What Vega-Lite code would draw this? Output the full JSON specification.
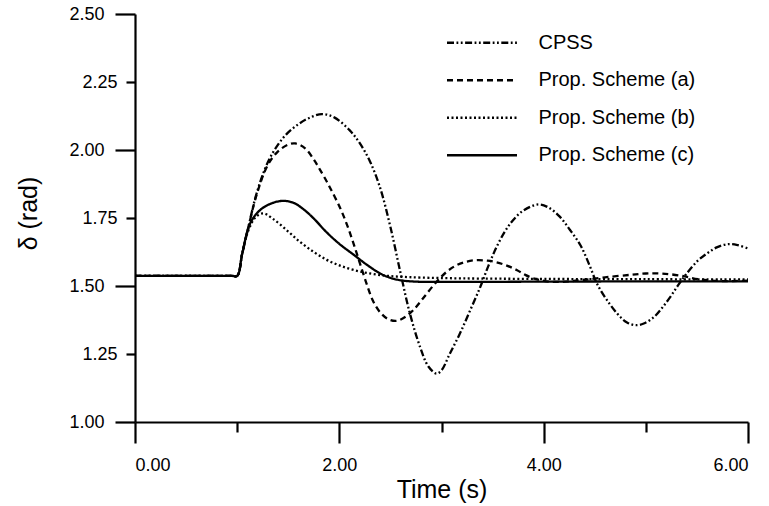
{
  "$schema": "https://vega.github.io/schema/vega-lite/v6.json",
  "width": 613,
  "height": 408,
  "autosize": "none",
  "padding": {"left": 135, "top": 14, "right": 21, "bottom": 84},
  "background": "white",
  "config": {
    "view": {"stroke": null},
    "font": "Liberation Sans",
    "axis": {"grid": false, "domainColor": "black", "tickColor": "black", "labelColor": "black", "titleColor": "black", "domainWidth": 2.2, "tickWidth": 2.2, "labelFont": "Liberation Sans", "titleFont": "Liberation Sans", "titleFontWeight": "normal", "labelFontSize": 18, "titleFontSize": 25}
  },
  "data": {
    "values": [
      {"t": 0, "v": 1.537, "s": "CPSS"},
      {"t": 0.95, "v": 1.537, "s": "CPSS"},
      {"t": 1.0, "v": 1.537, "s": "CPSS"},
      {"t": 1.05, "v": 1.62, "s": "CPSS"},
      {"t": 1.1, "v": 1.70, "s": "CPSS"},
      {"t": 1.19, "v": 1.84, "s": "CPSS"},
      {"t": 1.3, "v": 1.955, "s": "CPSS"},
      {"t": 1.4, "v": 2.02, "s": "CPSS"},
      {"t": 1.49, "v": 2.061, "s": "CPSS"},
      {"t": 1.6, "v": 2.095, "s": "CPSS"},
      {"t": 1.7, "v": 2.117, "s": "CPSS"},
      {"t": 1.83, "v": 2.132, "s": "CPSS"},
      {"t": 1.95, "v": 2.12, "s": "CPSS"},
      {"t": 2.1, "v": 2.073, "s": "CPSS"},
      {"t": 2.2, "v": 2.025, "s": "CPSS"},
      {"t": 2.3, "v": 1.958, "s": "CPSS"},
      {"t": 2.4, "v": 1.86, "s": "CPSS"},
      {"t": 2.5, "v": 1.717, "s": "CPSS"},
      {"t": 2.6, "v": 1.546, "s": "CPSS"},
      {"t": 2.69, "v": 1.40, "s": "CPSS"},
      {"t": 2.79, "v": 1.276, "s": "CPSS"},
      {"t": 2.87, "v": 1.205, "s": "CPSS"},
      {"t": 2.95, "v": 1.178, "s": "CPSS"},
      {"t": 3.0, "v": 1.19, "s": "CPSS"},
      {"t": 3.08, "v": 1.25, "s": "CPSS"},
      {"t": 3.18, "v": 1.325, "s": "CPSS"},
      {"t": 3.28, "v": 1.41, "s": "CPSS"},
      {"t": 3.38, "v": 1.497, "s": "CPSS"},
      {"t": 3.46, "v": 1.575, "s": "CPSS"},
      {"t": 3.54, "v": 1.644, "s": "CPSS"},
      {"t": 3.62, "v": 1.70, "s": "CPSS"},
      {"t": 3.70, "v": 1.742, "s": "CPSS"},
      {"t": 3.8, "v": 1.777, "s": "CPSS"},
      {"t": 3.95, "v": 1.80, "s": "CPSS"},
      {"t": 4.05, "v": 1.788, "s": "CPSS"},
      {"t": 4.16, "v": 1.754, "s": "CPSS"},
      {"t": 4.26, "v": 1.705, "s": "CPSS"},
      {"t": 4.36, "v": 1.65, "s": "CPSS"},
      {"t": 4.45, "v": 1.575, "s": "CPSS"},
      {"t": 4.52, "v": 1.51, "s": "CPSS"},
      {"t": 4.62, "v": 1.448, "s": "CPSS"},
      {"t": 4.75, "v": 1.386, "s": "CPSS"},
      {"t": 4.82, "v": 1.365, "s": "CPSS"},
      {"t": 4.9, "v": 1.356, "s": "CPSS"},
      {"t": 4.98, "v": 1.362, "s": "CPSS"},
      {"t": 5.08, "v": 1.386, "s": "CPSS"},
      {"t": 5.16, "v": 1.42, "s": "CPSS"},
      {"t": 5.24, "v": 1.46, "s": "CPSS"},
      {"t": 5.32, "v": 1.505, "s": "CPSS"},
      {"t": 5.40, "v": 1.546, "s": "CPSS"},
      {"t": 5.5, "v": 1.59, "s": "CPSS"},
      {"t": 5.6, "v": 1.62, "s": "CPSS"},
      {"t": 5.7, "v": 1.643, "s": "CPSS"},
      {"t": 5.81, "v": 1.654, "s": "CPSS"},
      {"t": 5.9, "v": 1.65, "s": "CPSS"},
      {"t": 6.0, "v": 1.638, "s": "CPSS"},

      {"t": 0, "v": 1.537, "s": "Prop. Scheme (a)"},
      {"t": 0.95, "v": 1.537, "s": "Prop. Scheme (a)"},
      {"t": 1.0, "v": 1.537, "s": "Prop. Scheme (a)"},
      {"t": 1.05, "v": 1.62, "s": "Prop. Scheme (a)"},
      {"t": 1.1, "v": 1.70, "s": "Prop. Scheme (a)"},
      {"t": 1.19, "v": 1.835, "s": "Prop. Scheme (a)"},
      {"t": 1.3, "v": 1.945, "s": "Prop. Scheme (a)"},
      {"t": 1.4, "v": 1.995, "s": "Prop. Scheme (a)"},
      {"t": 1.5, "v": 2.02, "s": "Prop. Scheme (a)"},
      {"t": 1.57, "v": 2.024, "s": "Prop. Scheme (a)"},
      {"t": 1.665, "v": 2.006, "s": "Prop. Scheme (a)"},
      {"t": 1.75, "v": 1.965, "s": "Prop. Scheme (a)"},
      {"t": 1.81, "v": 1.928, "s": "Prop. Scheme (a)"},
      {"t": 1.9, "v": 1.868, "s": "Prop. Scheme (a)"},
      {"t": 2.01, "v": 1.785, "s": "Prop. Scheme (a)"},
      {"t": 2.08, "v": 1.72, "s": "Prop. Scheme (a)"},
      {"t": 2.14, "v": 1.655, "s": "Prop. Scheme (a)"},
      {"t": 2.2, "v": 1.585, "s": "Prop. Scheme (a)"},
      {"t": 2.27, "v": 1.505, "s": "Prop. Scheme (a)"},
      {"t": 2.33, "v": 1.445, "s": "Prop. Scheme (a)"},
      {"t": 2.40, "v": 1.403, "s": "Prop. Scheme (a)"},
      {"t": 2.48, "v": 1.378, "s": "Prop. Scheme (a)"},
      {"t": 2.56, "v": 1.372, "s": "Prop. Scheme (a)"},
      {"t": 2.64, "v": 1.385, "s": "Prop. Scheme (a)"},
      {"t": 2.72, "v": 1.41, "s": "Prop. Scheme (a)"},
      {"t": 2.82, "v": 1.455, "s": "Prop. Scheme (a)"},
      {"t": 2.95, "v": 1.515, "s": "Prop. Scheme (a)"},
      {"t": 3.05, "v": 1.552, "s": "Prop. Scheme (a)"},
      {"t": 3.15, "v": 1.577, "s": "Prop. Scheme (a)"},
      {"t": 3.25, "v": 1.59, "s": "Prop. Scheme (a)"},
      {"t": 3.345, "v": 1.595, "s": "Prop. Scheme (a)"},
      {"t": 3.45, "v": 1.593, "s": "Prop. Scheme (a)"},
      {"t": 3.54, "v": 1.587, "s": "Prop. Scheme (a)"},
      {"t": 3.64, "v": 1.575, "s": "Prop. Scheme (a)"},
      {"t": 3.74, "v": 1.558, "s": "Prop. Scheme (a)"},
      {"t": 3.82, "v": 1.541, "s": "Prop. Scheme (a)"},
      {"t": 3.9, "v": 1.528, "s": "Prop. Scheme (a)"},
      {"t": 4.0, "v": 1.519, "s": "Prop. Scheme (a)"},
      {"t": 4.1, "v": 1.515, "s": "Prop. Scheme (a)"},
      {"t": 4.25, "v": 1.517, "s": "Prop. Scheme (a)"},
      {"t": 4.4, "v": 1.523, "s": "Prop. Scheme (a)"},
      {"t": 4.6, "v": 1.532, "s": "Prop. Scheme (a)"},
      {"t": 4.85, "v": 1.541, "s": "Prop. Scheme (a)"},
      {"t": 5.0, "v": 1.546, "s": "Prop. Scheme (a)"},
      {"t": 5.15, "v": 1.546, "s": "Prop. Scheme (a)"},
      {"t": 5.34, "v": 1.538, "s": "Prop. Scheme (a)"},
      {"t": 5.53, "v": 1.524, "s": "Prop. Scheme (a)"},
      {"t": 5.75, "v": 1.518, "s": "Prop. Scheme (a)"},
      {"t": 6.0, "v": 1.52, "s": "Prop. Scheme (a)"},

      {"t": 0, "v": 1.537, "s": "Prop. Scheme (b)"},
      {"t": 0.95, "v": 1.537, "s": "Prop. Scheme (b)"},
      {"t": 1.0, "v": 1.537, "s": "Prop. Scheme (b)"},
      {"t": 1.05, "v": 1.62, "s": "Prop. Scheme (b)"},
      {"t": 1.1, "v": 1.695, "s": "Prop. Scheme (b)"},
      {"t": 1.18, "v": 1.753, "s": "Prop. Scheme (b)"},
      {"t": 1.257, "v": 1.767, "s": "Prop. Scheme (b)"},
      {"t": 1.35, "v": 1.747, "s": "Prop. Scheme (b)"},
      {"t": 1.486, "v": 1.705, "s": "Prop. Scheme (b)"},
      {"t": 1.616, "v": 1.662, "s": "Prop. Scheme (b)"},
      {"t": 1.75, "v": 1.625, "s": "Prop. Scheme (b)"},
      {"t": 1.877, "v": 1.596, "s": "Prop. Scheme (b)"},
      {"t": 2.0, "v": 1.576, "s": "Prop. Scheme (b)"},
      {"t": 2.14, "v": 1.559, "s": "Prop. Scheme (b)"},
      {"t": 2.3, "v": 1.546, "s": "Prop. Scheme (b)"},
      {"t": 2.45, "v": 1.538, "s": "Prop. Scheme (b)"},
      {"t": 2.6, "v": 1.534, "s": "Prop. Scheme (b)"},
      {"t": 2.8, "v": 1.531, "s": "Prop. Scheme (b)"},
      {"t": 3.2, "v": 1.528, "s": "Prop. Scheme (b)"},
      {"t": 4.0, "v": 1.526, "s": "Prop. Scheme (b)"},
      {"t": 5.0, "v": 1.525, "s": "Prop. Scheme (b)"},
      {"t": 6.0, "v": 1.524, "s": "Prop. Scheme (b)"},

      {"t": 0, "v": 1.537, "s": "Prop. Scheme (c)"},
      {"t": 0.95, "v": 1.537, "s": "Prop. Scheme (c)"},
      {"t": 1.0, "v": 1.537, "s": "Prop. Scheme (c)"},
      {"t": 1.05, "v": 1.62, "s": "Prop. Scheme (c)"},
      {"t": 1.127, "v": 1.73, "s": "Prop. Scheme (c)"},
      {"t": 1.224, "v": 1.779, "s": "Prop. Scheme (c)"},
      {"t": 1.33, "v": 1.803, "s": "Prop. Scheme (c)"},
      {"t": 1.447, "v": 1.813, "s": "Prop. Scheme (c)"},
      {"t": 1.55, "v": 1.806, "s": "Prop. Scheme (c)"},
      {"t": 1.65, "v": 1.782, "s": "Prop. Scheme (c)"},
      {"t": 1.75, "v": 1.748, "s": "Prop. Scheme (c)"},
      {"t": 1.877, "v": 1.697, "s": "Prop. Scheme (c)"},
      {"t": 2.0, "v": 1.655, "s": "Prop. Scheme (c)"},
      {"t": 2.14, "v": 1.615, "s": "Prop. Scheme (c)"},
      {"t": 2.27, "v": 1.578, "s": "Prop. Scheme (c)"},
      {"t": 2.4, "v": 1.546, "s": "Prop. Scheme (c)"},
      {"t": 2.5, "v": 1.53, "s": "Prop. Scheme (c)"},
      {"t": 2.6, "v": 1.521, "s": "Prop. Scheme (c)"},
      {"t": 2.75, "v": 1.516, "s": "Prop. Scheme (c)"},
      {"t": 3.0, "v": 1.515, "s": "Prop. Scheme (c)"},
      {"t": 4.0, "v": 1.516, "s": "Prop. Scheme (c)"},
      {"t": 5.0, "v": 1.517, "s": "Prop. Scheme (c)"},
      {"t": 6.0, "v": 1.517, "s": "Prop. Scheme (c)"}
    ]
  },
  "layer": [
    {
      "mark": {"type": "line", "interpolate": "catmull-rom", "color": "black", "clip": true},
      "encoding": {
        "x": {"field": "t", "type": "quantitative", "scale": {"domain": [0, 6], "nice": false, "zero": false},
          "axis": {"orient": "bottom", "values": [0, 2, 4, 6], "format": ".2f", "tickSize": 21, "labelPadding": 27, "labelBaseline": "alphabetic", "title": "Time (s)", "titleBaseline": "alphabetic", "titleY": 75, "titlePadding": 0}},
        "y": {"field": "v", "type": "quantitative", "scale": {"domain": [1, 2.5], "nice": false, "zero": false},
          "axis": {"orient": "left", "values": [1, 1.5, 2, 2.5], "format": ".2f", "tickSize": 20, "labelPadding": 11, "title": "δ (rad)", "titleBaseline": "alphabetic", "titleX": -99, "titleY": 199, "titleAngle": 270}},
        "strokeDash": {"field": "s", "type": "nominal",
          "scale": {"domain": ["CPSS", "Prop. Scheme (a)", "Prop. Scheme (b)", "Prop. Scheme (c)"], "range": [[7, 2.5, 1.8, 2.5, 1.8, 2.5], [6, 4], [2, 2.5], [1, 0]]},
          "legend": {"title": null, "orient": "none", "legendX": 328, "legendY": 9.75, "symbolType": "M-2,0H2", "symbolSize": 1225, "symbolStrokeColor": "black", "symbolFillColor": "transparent", "labelFontSize": 20, "labelFont": "Liberation Sans", "labelColor": "black", "labelOffset": 37.5, "rowPadding": 8.5, "padding": 0}},
        "strokeWidth": {"field": "s", "type": "nominal",
          "scale": {"domain": ["CPSS", "Prop. Scheme (a)", "Prop. Scheme (b)", "Prop. Scheme (c)"], "range": [2.3, 2.3, 2.3, 2.6]},
          "legend": null}
      }
    },
    {
      "transform": [{"filter": "datum.t < 0"}],
      "mark": {"type": "point", "opacity": 0},
      "encoding": {
        "x": {"field": "t", "type": "quantitative", "axis": {"orient": "bottom", "values": [1, 3, 5], "tickSize": 10, "labels": false, "domain": false, "title": null}},
        "y": {"field": "v", "type": "quantitative", "axis": {"orient": "left", "values": [1.25, 1.75, 2.25], "format": ".2f", "tickSize": 9, "labelPadding": 9, "domain": false, "title": null}}
      }
    }
  ],
  "resolve": {"axis": {"x": "independent", "y": "independent"}}
}
